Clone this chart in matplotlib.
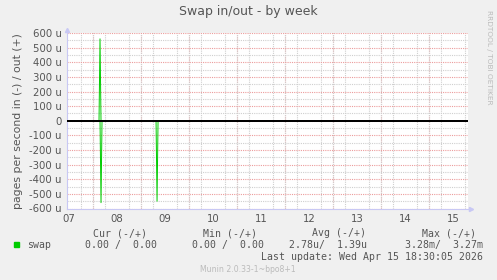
import matplotlib
matplotlib.use("Agg")
import matplotlib.pyplot as plt
import matplotlib.dates as mdates
from matplotlib.ticker import MultipleLocator, FuncFormatter
from datetime import datetime, timedelta

# graph window (munin "by week")
t_start = datetime(2026, 4, 7, 11, 0)
t_end = datetime(2026, 4, 15, 19, 24)

# swap out (+), pages/s in micro units
out_times = [t_start, datetime(2026, 4, 8, 3, 0), datetime(2026, 4, 8, 3, 30),
             datetime(2026, 4, 8, 4, 0), t_end]
out_values = [0, 0, 560, 0, 0]

# swap in (-), pages/s in micro units
in_times = [t_start, datetime(2026, 4, 8, 3, 30), datetime(2026, 4, 8, 4, 0),
            datetime(2026, 4, 8, 4, 30), datetime(2026, 4, 9, 7, 30),
            datetime(2026, 4, 9, 8, 0), datetime(2026, 4, 9, 8, 30), t_end]
in_values = [0, 0, 560, 0, 0, 550, 0, 0]

day_labels = ["07", "08", "09", "10", "11", "12", "13", "14", "15"]

legend_headers = ["Cur (-/+)", "Min (-/+)", "Avg (-/+)", "Max (-/+)"]
legend_values = ["0.00 /  0.00", "0.00 /  0.00", "2.78u/  1.39u", "3.28m/  3.27m"]
last_update = "Last update: Wed Apr 15 18:30:05 2026"

BG = "#F0F0F0"
TXT = "#555555"
GREEN = "#00CC00"
AXIS = "#C8C8F4"
RED_GRID = "#EC9C9C"
GRAY_GRID = "#CFCFCF"

fig = plt.figure(figsize=(4.97, 2.8), dpi=100, facecolor=BG)
W, H = 497.0, 280.0
ax = fig.add_axes([67 / W, 1 - 208.5 / H, (468 - 67) / W, (208.5 - 33) / H])
ax.set_facecolor("white")

ax.set_xlim(t_start, t_end)
ax.set_ylim(-600, 600)

# grid
ax.yaxis.set_major_locator(MultipleLocator(100))
ax.yaxis.set_minor_locator(MultipleLocator(50))
ax.yaxis.set_major_formatter(FuncFormatter(lambda v, p: "0" if v == 0 else "%d u" % v))
ax.xaxis.set_minor_locator(mdates.HourLocator(byhour=[0, 6, 12, 18]))
ax.grid(True, which="minor", color=GRAY_GRID, linestyle=(0, (1, 1)), lw=0.8, zorder=0)
ax.grid(True, which="major", axis="y", color=RED_GRID, linestyle=(0, (1, 1)), lw=0.8, zorder=1)
day = datetime(2026, 4, 8)
while day < t_end:
    ax.axvline(day, color=RED_GRID, linestyle=(0, (1, 1)), lw=0.8, zorder=1)
    day += timedelta(days=1)

noon_ticks = [datetime(2026, 4, 7, 12) + timedelta(days=i) for i in range(len(day_labels))]
ax.set_xticks(noon_ticks)
ax.set_xticklabels(day_labels)

ax.tick_params(axis="both", which="both", length=0, colors=TXT, labelsize=7.3)
ax.tick_params(axis="x", pad=4)
ax.tick_params(axis="y", pad=4)

for s in ["top", "right"]:
    ax.spines[s].set_visible(False)
for s in ["left", "bottom"]:
    ax.spines[s].set_color(AXIS)
    ax.spines[s].set_linewidth(0.8)

ax.plot(out_times, out_values, color=GREEN, lw=0.7, zorder=4)
ax.plot(in_times, [-v for v in in_values], color=GREEN, lw=0.7, zorder=4)
ax.axhline(0, color="black", lw=1.2, zorder=5, antialiased=False)

# axis arrows
ax.plot([0], [1.015], marker="^", ms=3, color=AXIS, transform=ax.transAxes, clip_on=False)
ax.plot([1.008], [0], marker=">", ms=3, color=AXIS, transform=ax.transAxes, clip_on=False)

ax.set_ylabel("pages per second in (-) / out (+)", color=TXT, fontsize=7.8, labelpad=4)

fig.text(248 / W, 1 - 12 / H, "Swap in/out - by week", ha="center", va="center",
         color=TXT, fontsize=9)
fig.text(489 / W, 1 - 57 / H, "RRDTOOL / TOBI OETIKER", rotation=270, ha="center",
         va="center", color="#BBBBBB", fontsize=5.3)

mono = dict(family="DejaVu Sans Mono", fontsize=7.1, color=TXT)
header_right = [147, 257, 366, 476]
value_right = [157, 264, 367, 483]
for h, x in zip(legend_headers, header_right):
    fig.text(x / W, 1 - 233 / H, h, ha="right", va="center", **mono)
fig.patches.append(plt.Rectangle((14 / W, 1 - 247 / H), 5 / W, 5 / H, color=GREEN,
                                 transform=fig.transFigure, figure=fig))
fig.text(27 / W, 1 - 245 / H, "swap", ha="left", va="center", **mono)
for v, x in zip(legend_values, value_right):
    fig.text(x / W, 1 - 245 / H, v, ha="right", va="center", **mono)
fig.text(483 / W, 1 - 257 / H, last_update, ha="right", va="center", **mono)
fig.text(248 / W, 1 - 269 / H, "Munin 2.0.33-1~bpo8+1", ha="center", va="center",
         color="#BBBBBB", fontsize=5.6)

fig.savefig("out.png", dpi=100, facecolor=BG)
